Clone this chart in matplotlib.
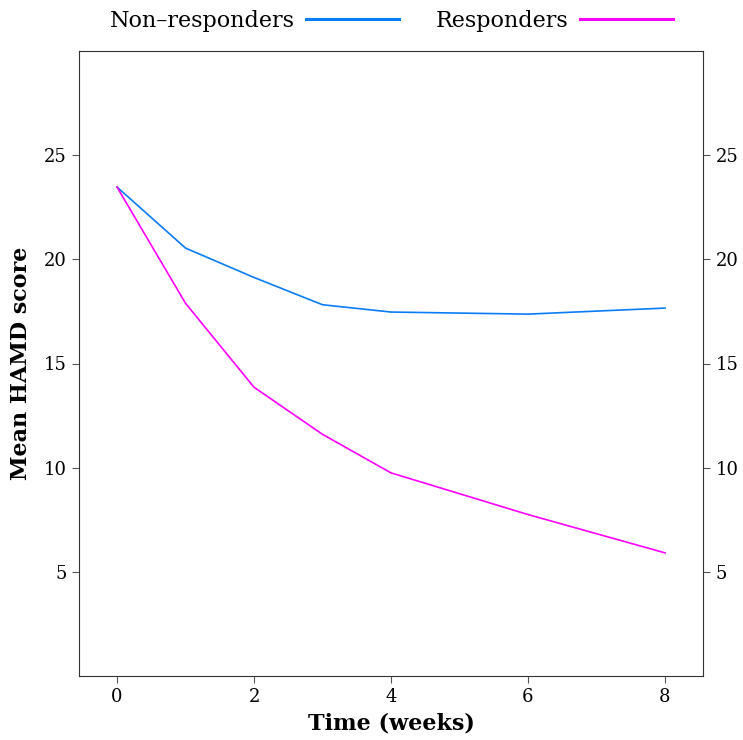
import numpy as np
import matplotlib
matplotlib.use('Agg')
import matplotlib.pyplot as plt

weeks = [0, 1, 2, 3, 4, 6, 8]
non_responders = [23.47, 20.54, 19.13, 17.82, 17.47, 17.37, 17.66]
responders = [23.47, 17.89, 13.86, 11.60, 9.75, 7.75, 5.91]
yticks = [5, 10, 15, 20, 25]
xticks = [0, 2, 4, 6, 8]

plt.rcParams['font.family'] = 'DejaVu Serif'

fig = plt.figure(figsize=(7.43, 7.40), dpi=100)
ax = fig.add_axes([79 / 743, 1 - 676 / 740, 624 / 743, 625 / 740])

ax.plot(weeks, non_responders, color='#0a7cf5', lw=1.2, label='Non–responders')
ax.plot(weeks, responders, color='#ff00ff', lw=1.2, label='Responders')

ax.set_xlim(-0.555, 8.555)
ax.set_ylim(0, 30)
ax.set_xticks(xticks)
ax.set_yticks(yticks)
ax.tick_params(axis='both', direction='out', length=5, width=0.8,
    color='#555555', labelsize=13, pad=4)
ax.tick_params(axis='y', right=True, labelright=True)
for sp in ax.spines.values():
    sp.set_linewidth(0.8)
    sp.set_color('#333333')

ax.set_xlabel('Time (weeks)', fontsize=16, fontweight='bold', labelpad=4)
ax.set_ylabel('Mean HAMD score', fontsize=16, fontweight='bold', labelpad=8)

leg = fig.legend(loc='center', bbox_to_anchor=(391.5 / 743, 1 - 21 / 740),
    ncol=2, frameon=False, fontsize=16, markerfirst=False, handlelength=4.2,
    columnspacing=1.65, handletextpad=0.5, borderpad=0)
for line in leg.get_lines():
    line.set_linewidth(2.2)

fig.savefig('out.png', dpi=100)
